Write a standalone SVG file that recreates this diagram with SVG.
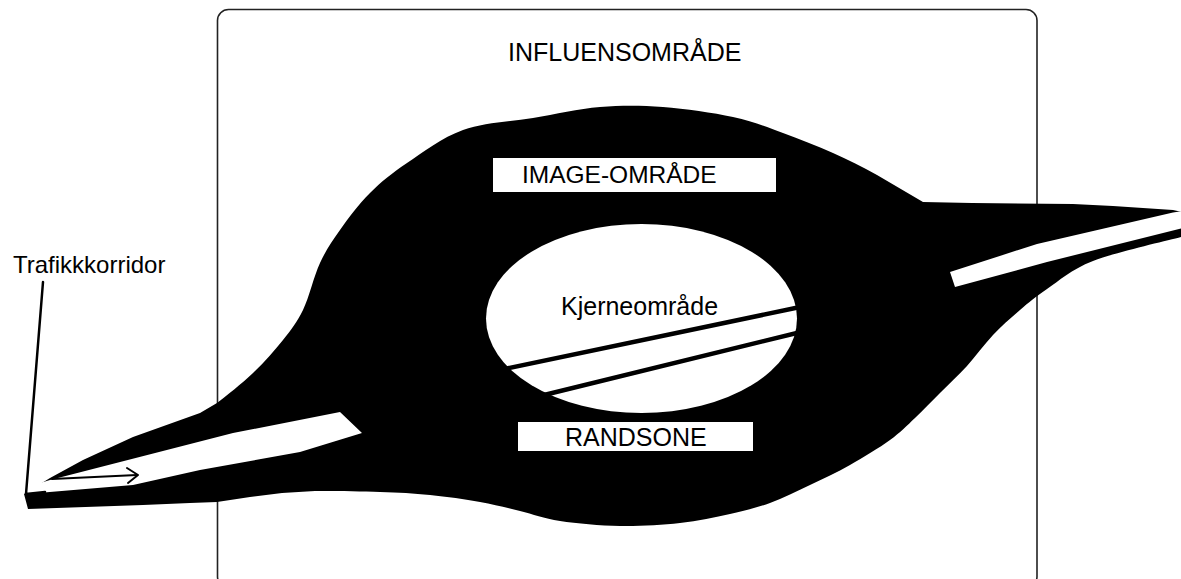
<svg xmlns="http://www.w3.org/2000/svg" width="1181" height="579" viewBox="0 0 1181 579">
<style>
.lbl{font-family:"Liberation Sans",Arial,sans-serif;fill:#000}
.box{fill:#fff}
.ln{stroke:#000;fill:none;stroke-linecap:round;stroke-linejoin:round}
</style>
<rect width="1181" height="579" fill="#fff"/>
<g id="influensomrade">
<rect x="217.5" y="9.5" width="819.5" height="578" rx="11" fill="none" stroke="#222" stroke-width="1.6"/>
<text class="lbl" x="508" y="61" font-size="25">INFLUENSOMRÅDE</text>
</g>
<g id="image-omrade">
<path fill="#000" d="M 50,478 L 83,460 L 133,437 L 200,413 L 217,403
C 225.8,396.3 242,383.5 253,373
C 264,362.5 274.7,350.5 283,340
C 291.3,329.5 296.8,322.8 303,310
C 309.2,297.2 313.8,276.3 320,263
C 326.2,249.7 331.7,241.7 340,230
C 348.3,218.3 358.8,204.2 370,193
C 381.2,181.8 391.5,173.5 407,163
C 422.5,152.5 442,137.5 463,130
C 484,122.5 510.2,121.8 533,118
C 555.8,114.2 578.3,108.8 600,107
C 621.7,105.2 640.8,105.3 663,107
C 685.2,108.7 713,112.7 733,117
C 753,121.3 766.3,127 783,133
C 799.7,139 817.3,146 833,153
C 848.7,160 862,166.8 877,175
L 923,202 L 972,203 L 1073,204 L 1113,206 L 1173,210 L 1182,212 L 1182,237
L 1181,237
C 1166.3,241 1115.3,252.3 1093,261
C 1070.7,269.7 1059.2,280.8 1047,289
C 1034.8,297.2 1029,302.3 1020,310
C 1011,317.7 1001.8,325.7 993,335
C 984.2,344.3 975.8,356.3 967,366
C 958.2,375.7 948.7,384.3 940,393
C 931.3,401.7 923.3,410.2 915,418
C 906.7,425.8 900.8,432.2 890,440
C 879.2,447.8 863.3,457.5 850,465
C 836.7,472.5 823.3,478.7 810,485
C 796.7,491.3 783.3,498.2 770,503
C 756.7,507.8 745,510.7 730,514
C 715,517.3 698.3,521 680,523
C 661.7,525 640,526.3 620,526
C 600,525.7 576.7,523.5 560,521
C 543.3,518.5 533.3,514.2 520,511
C 506.7,507.8 495,504.7 480,502
C 465,499.3 446.7,496.7 430,495
C 413.3,493.3 399.2,492.7 380,492
C 360.8,491.3 331.3,490.8 315,491
L 282,493 L 250,497 L 217,502 L 190,503 L 143,505 L 28,509 L 24,494 Z"/>
<polygon class="box" points="20,489 50,480 233,433 340,412 362,433 300,452 200,470 133,485 26,494"/>
<polygon class="box" points="950,272 1037,244 1173,212.5 1183,211 1183,228 1047,262 955,287"/>
<rect class="box" x="493" y="158" width="283" height="34"/>
<text class="lbl" x="522" y="183" font-size="24.5">IMAGE-OMRÅDE</text>
</g>
<g id="randsone">
<rect class="box" x="518" y="422" width="235" height="29"/>
<text class="lbl" x="565" y="446" font-size="25">RANDSONE</text>
</g>
<g id="kjerneomrade">
<ellipse cx="641.5" cy="318.5" rx="155.5" ry="94.5" fill="#fff"/>
<text class="lbl" x="561" y="315" font-size="25">Kjerneområde</text>
</g>
<g id="trafikkkorridor">
<text class="lbl" x="13" y="273" font-size="24">Trafikkkorridor</text>
</g>
<g id="connectors">
<line class="ln" x1="500" y1="370" x2="805" y2="306" stroke-width="4.5"/>
<line class="ln" x1="540" y1="396" x2="805" y2="331" stroke-width="4.5"/>
<polyline class="ln" points="43,282 26,494 45,492" stroke-width="2.5"/>
<line class="ln" x1="52" y1="479" x2="137" y2="475" stroke-width="2"/>
<polyline class="ln" points="127,468 138,475 128,483" stroke-width="2"/>
</g>
</svg>
